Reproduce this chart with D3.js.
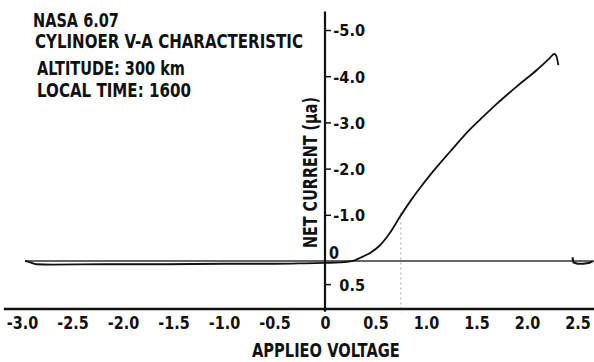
<!DOCTYPE html>
<html>
<head>
<meta charset="utf-8">
<script src="https://cdn.jsdelivr.net/npm/d3@7"></script>
<style>
  html, body { margin: 0; padding: 0; background: #fff; }
  svg { display: block; }
  text { font-family: "DejaVu Sans", "Liberation Sans", sans-serif; font-weight: bold; fill: #111; }
</style>
</head>
<body>
<script>
// Probe sweep: applied voltage (V) and net current (µA, electron current plotted upward as negative)
const voltage = [-2.97, -2.92, -2.86, -2.70, -2.20, -1.60, -1.00, -0.50, -0.20, 0.00, 0.15, 0.25,
  0.30, 0.35, 0.45, 0.54, 0.64, 0.74, 0.84, 0.94, 1.04, 1.24, 1.44, 1.54, 1.70, 1.90, 2.10,
  2.22, 2.27, 2.29, 2.31];
const current = [0.00, 0.03, 0.07, 0.08, 0.07, 0.07, 0.06, 0.06, 0.05, 0.04, 0.03, 0.01,
  -0.02, -0.07, -0.18, -0.33, -0.60, -0.95, -1.28, -1.58, -1.86, -2.37, -2.86, -3.07, -3.40, -3.78, -4.14,
  -4.38, -4.48, -4.44, -4.24];

// Start of the return trace at the right edge
const retraceVoltage = [2.45, 2.46, 2.50, 2.56, 2.62, 2.65];
const retraceCurrent = [-0.08, 0.03, 0.06, 0.06, 0.04, 0.01];

// Axis ticks and labels
const xTicks = [-3.0, -2.5, -2.0, -1.5, -1.0, -0.5, 0, 0.5, 1.0, 1.5, 2.0, 2.5];
const xTickLabels = ["-3.0", "-2.5", "-2.0", "-1.5", "-1.0", "-0.5", "0", "0.5", "1.0", "1.5", "2.0", "2.5"];
const yTicks = [-5, -4, -3, -2, -1, 0, 0.5];
const yTickLabels = ["-5.0", "-4.0", "-3.0", "-2.0", "-1.0", "0", "0.5"];

// Reference voltage marker
const markerVoltage = 0.75;

const titleLines = ["NASA 6.07", "CYLINOER V-A CHARACTERISTIC", "ALTITUDE: 300 km", "LOCAL TIME: 1600"];
const xTitle = "APPLIEO VOLTAGE";
const yTitle = "NET CURRENT (μa)";

const W = 594, H = 362;
const svg = d3.select("body").append("svg").attr("width", W).attr("height", H);

const x = d3.scaleLinear().domain([-3, 2.5]).range([22, 577.5]);
const y = d3.scaleLinear().domain([0, -5]).range([261, 30]);

// Condensed text: squeeze a text horizontally to a given width, anchored at its start
function condensed(sel, px, py, width, rotate) {
  const natural = sel.node().getComputedTextLength();
  const s = width / natural;
  sel.attr("x", 0).attr("y", 0)
    .attr("transform", `translate(${px},${py})${rotate ? ` rotate(${rotate})` : ""} scale(${s},1)`);
  return sel;
}

// Title block
const titleLayout = [
  { x: 33, y: 27, w: 86 },
  { x: 35, y: 48, w: 268 },
  { x: 37, y: 75, w: 148 },
  { x: 37, y: 97, w: 154 }
];
titleLines.forEach((t, i) => {
  const L = titleLayout[i];
  const el = svg.append("text").attr("font-size", 20).text(t);
  condensed(el, L.x, L.y, L.w);
});

// Faint marker line at a reference voltage
svg.append("line")
  .attr("x1", x(markerVoltage)).attr("x2", x(markerVoltage))
  .attr("y1", y(-1.05)).attr("y2", y(1.12))
  .attr("stroke", "#aaa").attr("stroke-width", 1)
  .attr("stroke-dasharray", "2,3");

// Zero-current reference line
svg.append("line")
  .attr("x1", x(-2.97)).attr("x2", x(2.7))
  .attr("y1", y(0)).attr("y2", y(0))
  .attr("stroke", "#333").attr("stroke-width", 1.3);

// X axis
const xAxisY = 309;
svg.append("line")
  .attr("x1", x(-3.18)).attr("x2", x(2.7))
  .attr("y1", xAxisY).attr("y2", xAxisY)
  .attr("stroke", "#111").attr("stroke-width", 2.4);

const xAxis = svg.append("g")
  .attr("transform", `translate(0,${xAxisY})`)
  .call(d3.axisBottom(x).tickValues(xTicks).tickSize(0)
    .tickFormat((d, i) => xTickLabels[i]));
xAxis.select(".domain").remove();
xAxis.selectAll("text")
  .attr("x", 0).attr("y", 20).attr("dy", 0)
  .attr("transform", "scale(0.8,1)")
  .attr("font-size", 18)
  .attr("font-family", "DejaVu Sans, Liberation Sans, sans-serif")
  .attr("font-weight", "bold")
  .attr("fill", "#111");

// Y axis
const yAxisX = x(0);
svg.append("line")
  .attr("x1", yAxisX).attr("x2", yAxisX)
  .attr("y1", y(-5.4)).attr("y2", y(1.1))
  .attr("stroke", "#111").attr("stroke-width", 2.2);

const yAxis = svg.append("g")
  .attr("transform", `translate(${yAxisX},0)`)
  .call(d3.axisRight(y).tickValues(yTicks).tickSize(6)
    .tickFormat((d, i) => yTickLabels[i]));
yAxis.select(".domain").remove();
yAxis.selectAll(".tick line").attr("stroke", "#111").attr("stroke-width", 1.5);
yAxis.selectAll("text")
  .attr("x", 0).attr("dy", "0.36em")
  .attr("transform", "translate(40,0) scale(0.88,1)")
  .attr("text-anchor", "end")
  .attr("font-size", 16.5)
  .attr("font-family", "DejaVu Sans, Liberation Sans, sans-serif")
  .attr("font-weight", "bold")
  .attr("fill", "#111");
// zero label sits just right of the axis, above the zero line
yAxis.selectAll(".tick").filter(d => d === 0).each(function () {
  const g = d3.select(this);
  g.select("line").remove();
  g.select("text").attr("dy", 0).attr("y", -3)
    .attr("transform", "translate(4,0) scale(0.8,1)")
    .attr("text-anchor", "start").attr("font-size", 18);
});

// Axis titles
condensed(svg.append("text").attr("font-size", 20).text(xTitle), 252, 357, 148);
condensed(svg.append("text").attr("font-size", 20).text(yTitle), 317, 248, 151, -90);

// V-A curve
const line = d3.line()
  .x(d => x(d[0]))
  .y(d => y(d[1]))
  .curve(d3.curveMonotoneX);

svg.append("path")
  .datum(voltage.map((v, i) => [v, current[i]]))
  .attr("d", line)
  .attr("fill", "none")
  .attr("stroke", "#111")
  .attr("stroke-width", 1.8);

svg.append("path")
  .datum(retraceVoltage.map((v, i) => [v, retraceCurrent[i]]))
  .attr("d", d3.line().x(d => x(d[0])).y(d => y(d[1])))
  .attr("fill", "none")
  .attr("stroke", "#111")
  .attr("stroke-width", 2);
</script>
</body>
</html>
